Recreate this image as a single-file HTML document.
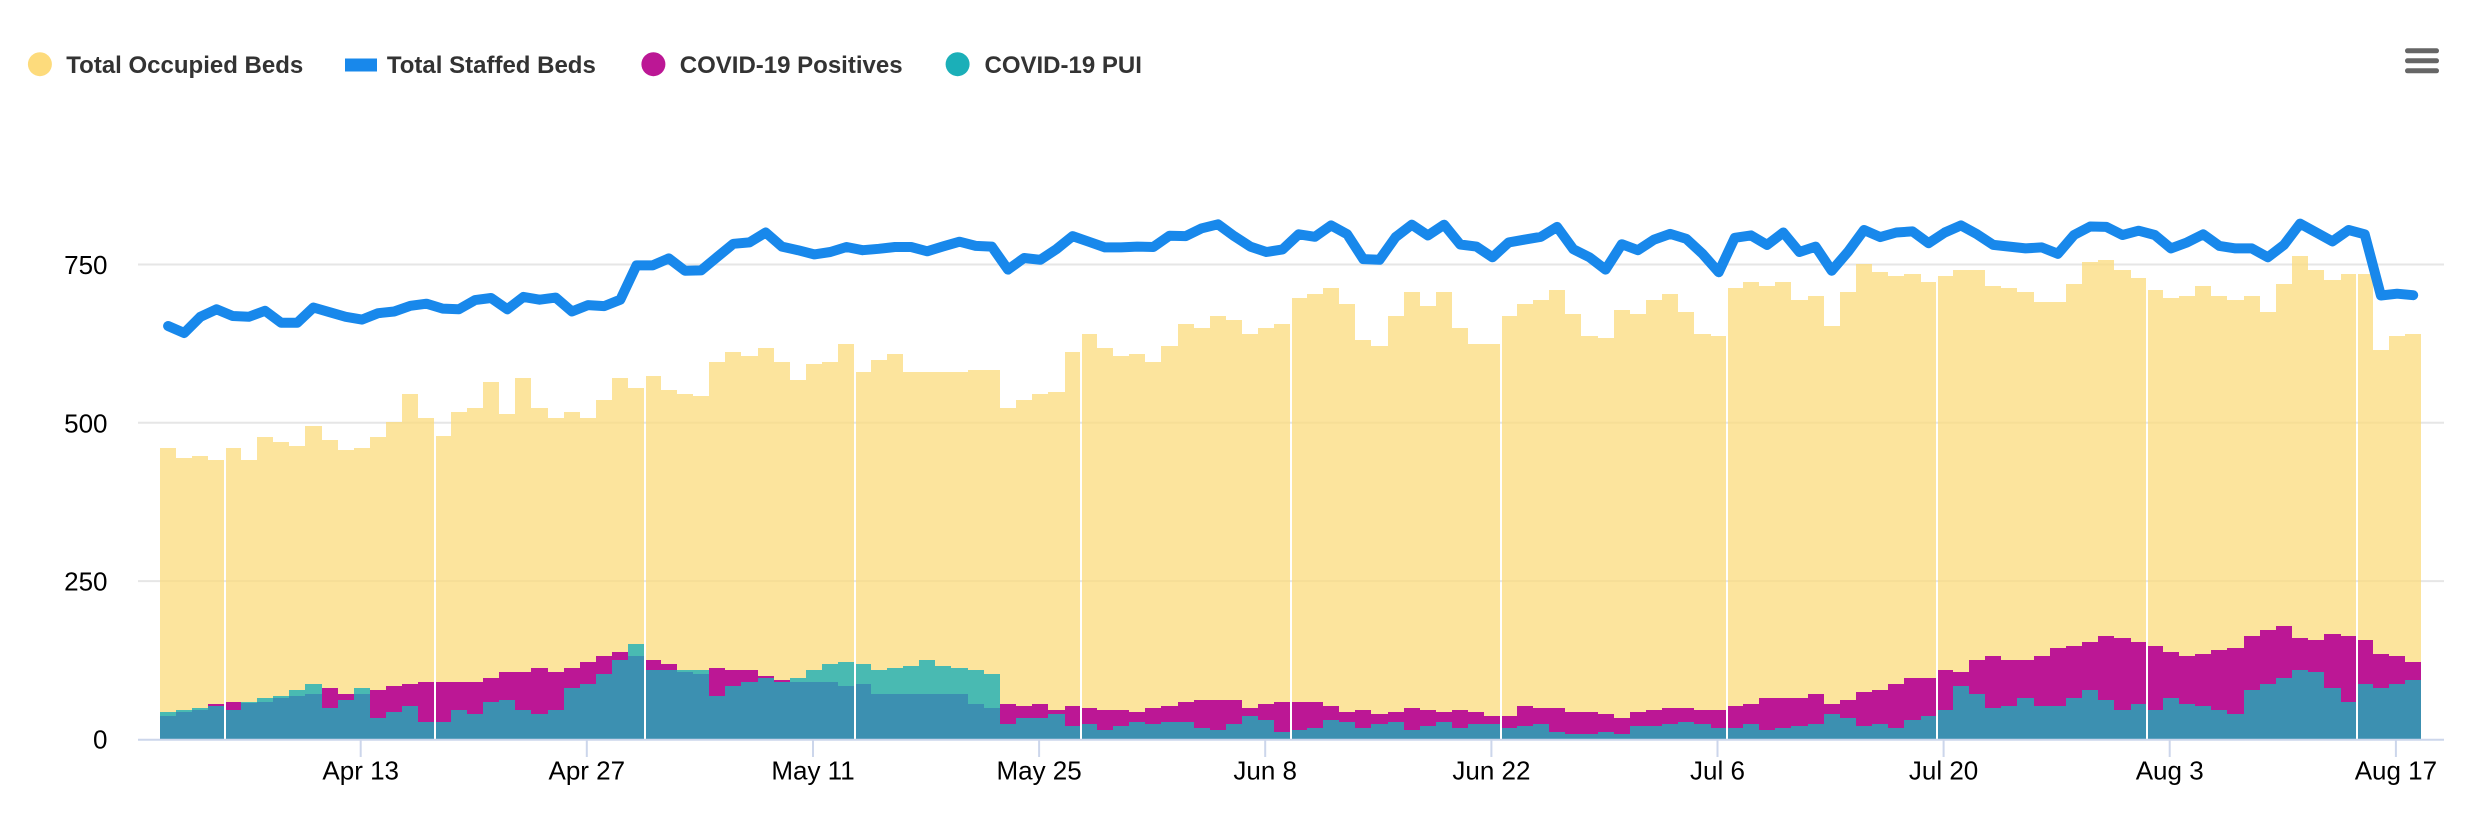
<!DOCTYPE html>
<html>
<head>
<meta charset="utf-8">
<style>
  html,body{margin:0;padding:0;background:#fff;}
  body{width:2476px;height:818px;overflow:hidden;}
  svg{display:block;}
  .lg{font-family:"Liberation Sans",Arial,sans-serif;font-weight:bold;font-size:24px;fill:#333333;}
  .ax{font-family:"Liberation Sans",Arial,sans-serif;font-size:26px;fill:#000000;}
</style>
</head>
<body>
<svg id="chart" width="2476" height="818" viewBox="0 0 2476 818" xmlns="http://www.w3.org/2000/svg">
  <rect x="0" y="0" width="2476" height="818" fill="#ffffff"/>
  <!-- gridlines -->
  <g stroke="#e6e6e6" stroke-width="2">
    <line x1="138" y1="264.5" x2="2444" y2="264.5"/>
    <line x1="138" y1="422.8" x2="2444" y2="422.8"/>
    <line x1="138" y1="581.1" x2="2444" y2="581.1"/>
  </g>
  <g id="bars"></g>
  <!-- x axis line -->
  <line x1="138" y1="739.7" x2="2444" y2="739.7" stroke="#ccd6eb" stroke-width="2"/>
  <!-- ticks -->
  <g stroke="#ccd6eb" stroke-width="2">
    <line x1="360.7" y1="740" x2="360.7" y2="757"/>
    <line x1="586.8" y1="740" x2="586.8" y2="757"/>
    <line x1="813.0" y1="740" x2="813.0" y2="757"/>
    <line x1="1039.1" y1="740" x2="1039.1" y2="757"/>
    <line x1="1265.2" y1="740" x2="1265.2" y2="757"/>
    <line x1="1491.4" y1="740" x2="1491.4" y2="757"/>
    <line x1="1717.5" y1="740" x2="1717.5" y2="757"/>
    <line x1="1943.6" y1="740" x2="1943.6" y2="757"/>
    <line x1="2169.7" y1="740" x2="2169.7" y2="757"/>
    <line x1="2395.9" y1="740" x2="2395.9" y2="757"/>
  </g>
  <path id="staffed" d="" fill="none" stroke="#1888eb" stroke-width="10" stroke-linejoin="round" stroke-linecap="round"/>

  <!-- y labels -->
  <g class="ax" text-anchor="end">
    <text x="107.5" y="274">750</text>
    <text x="107.5" y="432.3">500</text>
    <text x="107.5" y="590.6">250</text>
    <text x="107.5" y="748.5">0</text>
  </g>
  <!-- x labels -->
  <g class="ax" text-anchor="middle">
    <text x="360.7" y="779.5">Apr 13</text>
    <text x="586.8" y="779.5">Apr 27</text>
    <text x="813.0" y="779.5">May 11</text>
    <text x="1039.1" y="779.5">May 25</text>
    <text x="1265.2" y="779.5">Jun 8</text>
    <text x="1491.4" y="779.5">Jun 22</text>
    <text x="1717.5" y="779.5">Jul 6</text>
    <text x="1943.6" y="779.5">Jul 20</text>
    <text x="2169.7" y="779.5">Aug 3</text>
    <text x="2395.9" y="779.5">Aug 17</text>
  </g>

  <!-- legend -->
  <circle cx="39.9" cy="64.2" r="12" fill="#fddb7c"/>
  <text class="lg" x="66.3" y="73.2">Total Occupied Beds</text>
  <rect x="345" y="58.5" width="32" height="13" fill="#1888eb"/>
  <text class="lg" x="386.9" y="73.2">Total Staffed Beds</text>
  <circle cx="653.4" cy="64.2" r="12" fill="#bc1795"/>
  <text class="lg" x="679.8" y="73.2">COVID-19 Positives</text>
  <circle cx="957.6" cy="64.2" r="12" fill="#1bafb8"/>
  <text class="lg" x="984.5" y="73.2">COVID-19 PUI</text>

  <!-- menu button -->
  <g stroke="#666666" stroke-width="5" stroke-linecap="round">
    <line x1="2407.5" y1="50.8" x2="2436.5" y2="50.8"/>
    <line x1="2407.5" y1="60.8" x2="2436.5" y2="60.8"/>
    <line x1="2407.5" y1="70.8" x2="2436.5" y2="70.8"/>
  </g>
</svg>
<script>
(function(){
var occ=[458.4,442.7,445.5,439.4,458.4,439.4,476.3,467.9,461.7,493,471.2,455,458.4,476.3,499.7,543.9,505.9,477.4,515.4,521.5,562.9,512,569,521.5,505.9,515.4,505.9,534.4,569,553.4,572.3,550,543.9,540.5,594.1,609.8,603.6,616.5,594.1,565.6,590.8,594.1,622.6,578.5,597.5,607,578.5,578.5,578.5,578.5,581.3,581.3,521.5,534.4,543.9,546.7,609.8,638.3,616.5,603.6,607,594.1,619.3,654,647.8,666.8,660.6,638.3,647.8,654,695.3,701.4,710.9,685.8,628.8,619.3,666.8,704.7,682.4,704.7,647.8,622.6,622.6,666.8,685.8,691.9,707.5,670.1,635.5,632.1,676.3,670.1,691.9,701.4,672.9,638.3,635.5,710.9,720.4,714.2,720.4,691.9,698.6,651.1,704.7,748.9,736,729.9,733.2,720.4,729.9,739.4,739.4,714.2,710.9,704.7,689.1,689.1,717,752.2,755,739.4,726.6,707.5,695.3,698.6,714.2,698.6,691.9,698.6,672.9,717,761.7,739.4,723.7,733.2,733.2,613.1,635.5,638.3];
var pos=[35.5,41.6,45,54.5,57.3,56,57.3,64,66.8,70,79.6,70,70,76.3,82.9,85.8,89.1,89.1,89.1,89.1,95.3,104.7,104.7,111.5,104.7,111.5,120.4,129.9,136.6,129.9,123.7,117.6,104.7,102,111.5,108.1,108.1,98.6,92.5,89.1,89.1,89.1,83,85.8,70,70,70,70,70,70,54.5,48.3,54.5,51.1,54.5,45,51.1,48.3,45,45,41.6,48.3,51.1,57.3,60.6,60.6,60.6,48.3,54.5,57.3,57.3,57.3,51.1,41.6,45,38.8,41.6,48.3,45,41.6,45,41.6,35.5,35.5,51.1,48.3,48.3,41.6,41.6,38.8,32.1,41.6,45,48.3,48.3,45,45,51.1,54.5,64,64,64,70,54.5,60.6,73.5,76.3,85.8,95.3,95.3,108.1,104.7,123.7,129.9,123.7,123.7,129.9,142.7,146.1,152.2,161.7,158.4,152.2,146.1,136.6,129.9,133.2,139.4,142.7,161.7,171.2,177.4,158.4,155.6,165.1,161.7,155.6,133.2,129.9,120.4];
var pui=[41.6,45,48.3,51.1,45,57.3,64,66.8,76.3,85.8,48.3,60.6,79.6,32.1,41.6,51.1,26,26,45,38.8,57.3,60.6,45,38.8,45,79.6,85.8,102,123.7,148.9,108.1,108.1,108.1,108.1,66.8,83,89.1,95.3,89.1,95.3,108.1,117.6,120.4,117.6,108.1,111.5,114.2,123.7,114.2,111.5,108.1,102,22.6,32.1,32.1,38.8,19.8,22.6,13.1,19.8,26,22.6,26,26,16.5,13.1,22.6,35.5,29.3,10.3,13.1,16.5,29.3,26,16.5,22.6,26,13.1,19.8,26,16.5,22.6,22.6,16.5,19.8,22.6,10.3,7,7,10.3,7,19.8,19.8,22.6,26,22.6,16.5,16.5,22.6,13.1,16.5,19.8,22.6,38.8,32.1,19.8,22.6,16.5,29.3,35.5,45,83,70,48.3,51.1,64,51.1,51.1,64,76.3,60.6,45,54.5,45,64,54.5,51.1,45,38.8,76.3,85.8,95.3,108.1,104.7,79.6,57.3,85.8,79.6,85.8,92.5];
var stf=[651,640,665.6,677.4,666.8,665.6,675.1,656.1,656.1,680.2,672.9,665.6,661.2,671.2,674,683,686.3,678.5,677.4,691.9,695.3,677.4,697,692.5,695.8,674,684.1,682.4,692.5,746.7,746.7,757.8,738.3,738.8,760,780.7,783,798.6,776.3,770.7,764,767.9,775.7,770.7,772.9,775.7,775.7,769,776.8,784.1,777.4,776.3,740,758.4,755.6,772.3,793,784.1,775.1,775.1,776.3,775.7,793.6,793,805.3,811.5,793,776.3,767.9,772,795.8,791.9,809.8,795.8,756.7,755.6,791.3,810.9,794.1,810.9,779.6,776.3,759.5,783,787.4,791.9,807.5,772.3,759.5,740,780.2,770.7,787.4,796.4,788.5,765,736,790.2,794.1,779,798.6,767.9,776.3,738.3,768,802.6,791.3,798.6,800.3,781.8,798.6,809.8,795.8,779,776.3,773.5,775.1,765,794.7,808.1,807.5,794.7,801.4,794.7,773.5,783,795.8,777.4,773.5,773.5,759.5,779,812.6,798.6,784.6,802.6,795.8,699.2,702,699.7];
var gaps={4:1,17:1,30:1,43:1,57:1,70:1,83:1,97:1,110:1,123:1,136:1};
var NS="http://www.w3.org/2000/svg";
var g=document.getElementById("bars");
var W=16.152, X0=160, BOT=739;
function Y(v){return 738.5-0.6336*v;}
function rect(x,y,w,h,fill,op){
  var r=document.createElementNS(NS,"rect");
  r.setAttribute("x",x);r.setAttribute("y",y);
  r.setAttribute("width",w);r.setAttribute("height",h);
  r.setAttribute("fill",fill);
  if(op<1) r.setAttribute("fill-opacity",op);
  g.appendChild(r);
}
var yl=document.createElementNS(NS,"g"), mg=document.createElementNS(NS,"g"), tl=document.createElementNS(NS,"g");
var n=occ.length;
var parts={y:[],m:[],t:[]};
for(var i=0;i<n;i++){
  var a=X0+W*i, b=X0+W*(i+1);
  var x0=Math.round(a), x1=Math.round(b);
  if(gaps[i]) x0+=1;
  if(gaps[i+1]) x1-=1;
  var w=x1-x0;
  var yo=Math.round(Y(occ[i])), yp=Math.round(Y(pos[i])), yu=Math.round(Y(pui[i]));
  rect(x0,yo,w,BOT-yo,"rgb(251,219,124)",0.75);
}
for(var i=0;i<n;i++){
  var a=X0+W*i, b=X0+W*(i+1);
  var x0=Math.round(a), x1=Math.round(b);
  if(gaps[i]) x0+=1;
  if(gaps[i+1]) x1-=1;
  var yp=Math.round(Y(pos[i]));
  rect(x0,yp,x1-x0,BOT-yp,"#bc1795",1);
}
for(var i=0;i<n;i++){
  var a=X0+W*i, b=X0+W*(i+1);
  var x0=Math.round(a), x1=Math.round(b);
  if(gaps[i]) x0+=1;
  if(gaps[i+1]) x1-=1;
  var yu=Math.round(Y(pui[i]));
  rect(x0,yu,x1-x0,BOT-yu,"rgb(27,175,184)",0.8);
}
var d="";
for(var i=0;i<n;i++){
  var x=(X0+W*(i+0.5)).toFixed(1), y=Y(stf[i]).toFixed(1);
  d+=(i?"L":"M")+x+" "+y+" ";
}
document.getElementById("staffed").setAttribute("d",d);
})();
</script>
</body>
</html>
